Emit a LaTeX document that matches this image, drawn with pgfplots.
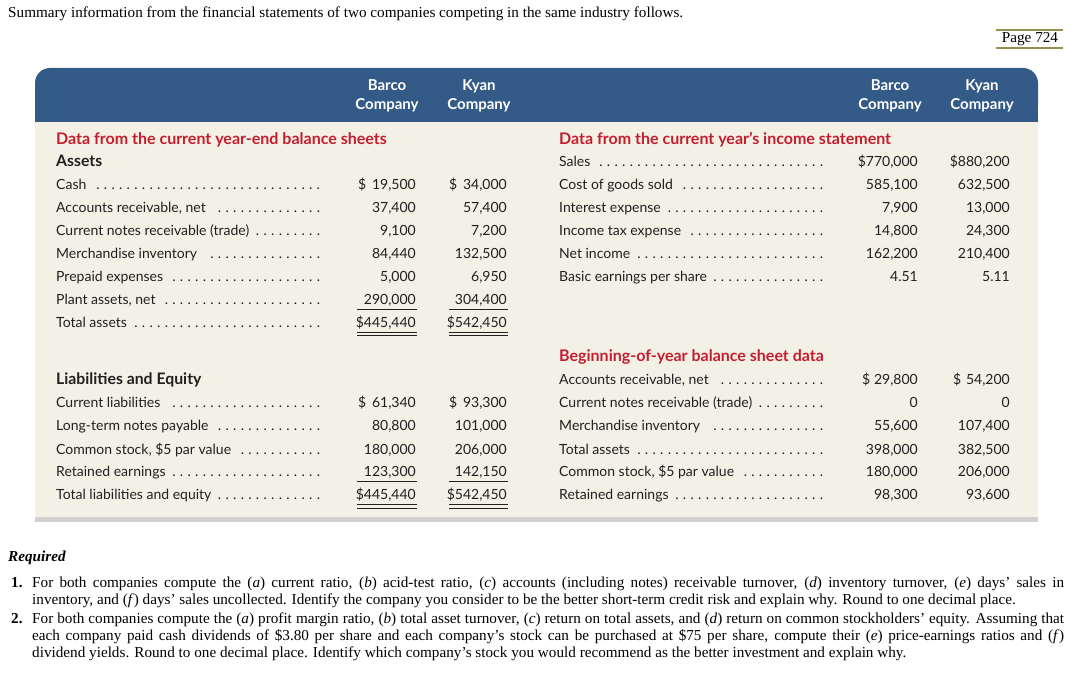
\documentclass[border=0pt]{standalone}
\usepackage{fontspec}
\setmainfont{Liberation Serif}
\newfontfamily\gill{Lato}
\usepackage{pgfplots}
\pgfplotsset{compat=1.18}
\definecolor{hdrblue}{HTML}{345B87}
\definecolor{beige}{HTML}{F3F0E6}
\definecolor{redh}{HTML}{C41E2E}
\definecolor{olive}{HTML}{978D4E}
\definecolor{barg}{HTML}{D0D0D0}
\definecolor{txt}{HTML}{231F20}
\newcommand\tf{\gill\fontsize{14}{16}\selectfont}
\newcommand\hb{\gill\bfseries\fontsize{15}{17}\selectfont}
\newcommand\bh{\gill\bfseries\fontsize{15.8}{18}\selectfont}
\newcommand\rh{\gill\bfseries\fontsize{16}{18}\selectfont}
\newcommand\serf{\fontsize{15.2}{17}\selectfont}
\newcommand\lab[2]{\hbox to #1{#2\hskip 4pt\leaders\hbox to 7.6pt{\hss.\hss}\hfill}}
% left block rows: y, label, barco, kyan
\newcommand\rowL[4]{%
 \node[anchor=base west,inner sep=0,txt] at (56,#1) {\tf\lab{267pt}{#2}};
 \node[anchor=base east,inner sep=0,txt] at (416,#1) {\tf #3};
 \node[anchor=base east,inner sep=0,txt] at (507,#1) {\tf #4};}
\newcommand\rowR[4]{%
 \node[anchor=base west,inner sep=0,txt] at (559,#1) {\tf\lab{271pt}{#2}};
 \node[anchor=base east,inner sep=0,txt] at (918,#1) {\tf #3};
 \node[anchor=base east,inner sep=0,txt] at (1010,#1) {\tf #4};}
\begin{document}
\begin{tikzpicture}
\begin{axis}[scale only axis, width=1080pt, height=676pt,
  xmin=0, xmax=1080, ymin=0, ymax=676, y dir=reverse,
  axis lines=none, ticks=none, clip=false]
\fill[white] (0,0) rectangle (1080,676);
% intro
\node[anchor=base west,inner sep=0] at (8,18) {\serf Summary information from the financial statements of two companies competing in the same industry follows.};
\draw[olive,line width=2pt] (996,30) -- (1063,30);
\draw[olive,line width=2pt] (996,48) -- (1063,48);
\node[anchor=base,inner sep=0] at (1030,43) {\serf Page 724};
% table frame
\fill[beige] (35,110) rectangle (1038,517);
\fill[barg] (35,517) rectangle (1038,522);
\fill[hdrblue,rounded corners=15pt] (35,68) rectangle (1038,122);
\fill[hdrblue] (35,95) rectangle (1038,122);
% header labels
\node[anchor=base,inner sep=0,white] at (387,91) {\hb Barco};
\node[anchor=base,inner sep=0,white] at (387,110) {\hb Company};
\node[anchor=base,inner sep=0,white] at (479,91) {\hb Kyan};
\node[anchor=base,inner sep=0,white] at (479,110) {\hb Company};
\node[anchor=base,inner sep=0,white] at (890,91) {\hb Barco};
\node[anchor=base,inner sep=0,white] at (890,110) {\hb Company};
\node[anchor=base,inner sep=0,white] at (982,91) {\hb Kyan};
\node[anchor=base,inner sep=0,white] at (982,110) {\hb Company};
% left block
\node[anchor=base west,inner sep=0,redh] at (56,145) {\rh Data from the current year-end balance sheets};
\node[anchor=base west,inner sep=0,txt] at (56,167) {\bh Assets};
\rowL{190}{Cash}{19,500}{34,000}
\node[anchor=base west,inner sep=0,txt] at (358,190) {\tf\$};
\node[anchor=base west,inner sep=0,txt] at (449,190) {\tf\$};
\rowL{213}{Accounts receivable, net}{37,400}{57,400}
\rowL{236}{Current notes receivable (trade)}{9,100}{7,200}
\rowL{259}{Merchandise inventory}{84,440}{132,500}
\rowL{282}{Prepaid expenses}{5,000}{6,950}
\rowL{305}{Plant assets, net}{290,000}{304,400}
\rowL{328}{Total assets}{\$445,440}{\$542,450}
\draw[txt,line width=0.9pt] (357,309.5) -- (417,309.5);
\draw[txt,line width=0.9pt] (449,309.5) -- (508,309.5);
\draw[txt,line width=0.9pt] (357,332) -- (417,332);
\draw[txt,line width=0.9pt] (357,335.5) -- (417,335.5);
\draw[txt,line width=0.9pt] (449,332) -- (508,332);
\draw[txt,line width=0.9pt] (449,335.5) -- (508,335.5);
\node[anchor=base west,inner sep=0,txt] at (56,385) {\bh Liabilities and Equity};
\rowL{408}{Current liabilities}{61,340}{93,300}
\node[anchor=base west,inner sep=0,txt] at (358,408) {\tf\$};
\node[anchor=base west,inner sep=0,txt] at (449,408) {\tf\$};
\rowL{431}{Long-term notes payable}{80,800}{101,000}
\rowL{454}{Common stock, \$5 par value}{180,000}{206,000}
\rowL{477}{Retained earnings}{123,300}{142,150}
\rowL{500}{Total liabilities and equity}{\$445,440}{\$542,450}
\draw[txt,line width=0.9pt] (357,481.5) -- (417,481.5);
\draw[txt,line width=0.9pt] (449,481.5) -- (508,481.5);
\draw[txt,line width=0.9pt] (357,504.5) -- (417,504.5);
\draw[txt,line width=0.9pt] (357,508) -- (417,508);
\draw[txt,line width=0.9pt] (449,504.5) -- (508,504.5);
\draw[txt,line width=0.9pt] (449,508) -- (508,508);
% right block
\node[anchor=base west,inner sep=0,redh] at (559,145) {\rh Data from the current year’s income statement};
\rowR{167}{Sales}{\$770,000}{\$880,200}
\rowR{190}{Cost of goods sold}{585,100}{632,500}
\rowR{213}{Interest expense}{7,900}{13,000}
\rowR{236}{Income tax expense}{14,800}{24,300}
\rowR{259}{Net income}{162,200}{210,400}
\rowR{282}{Basic earnings per share}{4.51}{5.11}
\node[anchor=base west,inner sep=0,redh] at (559,362) {\rh Beginning-of-year balance sheet data};
\rowR{385}{Accounts receivable, net}{29,800}{54,200}
\node[anchor=base west,inner sep=0,txt] at (862,385) {\tf\$};
\node[anchor=base west,inner sep=0,txt] at (953,385) {\tf\$};
\rowR{408}{Current notes receivable (trade)}{0}{0}
\rowR{431}{Merchandise inventory}{55,600}{107,400}
\rowR{454}{Total assets}{398,000}{382,500}
\rowR{477}{Common stock, \$5 par value}{180,000}{206,000}
\rowR{500}{Retained earnings}{98,300}{93,600}
% required
\node[anchor=base west,inner sep=0] at (8,561) {\serf\bfseries\itshape Required};
\node[anchor=base west,inner sep=0] at (11,587) {\serf\bfseries 1.};
\node[anchor=base west,inner sep=0] at (32,587) {\serf\hbox to 1032pt{For both companies compute the (\textit{a}) current ratio, (\textit{b}) acid-test ratio, (\textit{c}) accounts (including notes) receivable turnover, (\textit{d}) inventory turnover, (\textit{e}) days’ sales in}};
\node[anchor=base west,inner sep=0] at (32,604) {\serf inventory, and (\textit{f}\/) days’ sales uncollected. Identify the company you consider to be the better short-term credit risk and explain why. Round to one decimal place.};
\node[anchor=base west,inner sep=0] at (11,623) {\serf\bfseries 2.};
\node[anchor=base west,inner sep=0] at (32,623) {\serf\hbox to 1032pt{For both companies compute the (\textit{a}) profit margin ratio, (\textit{b}) total asset turnover, (\textit{c}) return on total assets, and (\textit{d}) return on common stockholders’ equity. Assuming that}};
\node[anchor=base west,inner sep=0] at (32,640) {\serf\hbox to 1032pt{each company paid cash dividends of \$3.80 per share and each company’s stock can be purchased at \$75 per share, compute their (\textit{e}) price-earnings ratios and (\textit{f}\/)}};
\node[anchor=base west,inner sep=0] at (32,657) {\serf dividend yields. Round to one decimal place. Identify which company’s stock you would recommend as the better investment and explain why.};
\end{axis}
\end{tikzpicture}
\end{document}
